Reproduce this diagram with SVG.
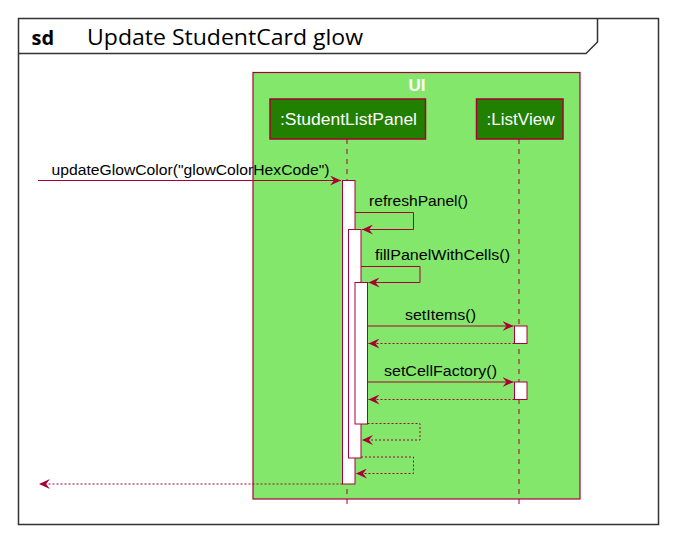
<svg xmlns="http://www.w3.org/2000/svg" width="683" height="551" viewBox="0 0 683 551">
<defs>
<style>
.frame{fill:none;stroke:#333;stroke-width:1.5}
.box{fill:#83E76B;stroke:#A80036;stroke-width:1.2}
.part{fill:#218000;stroke:#A80036;stroke-width:1.5}
.ptxt{font-family:"Liberation Sans",Arial,sans-serif;font-size:16px;fill:#fff}
.life{stroke:#A80036;stroke-width:1;stroke-dasharray:5,5}
.act{fill:#fff;stroke:#A80036;stroke-width:1}
.msg{stroke:#A80036;stroke-width:1;fill:none}
.ret{stroke:#A80036;stroke-width:1;fill:none;stroke-dasharray:2,2}
.mtxt{font-family:"Liberation Sans",Arial,sans-serif;font-size:14px;fill:#000}
</style>
<marker id="ah" viewBox="0 0 12 10" refX="11" refY="5" markerWidth="12" markerHeight="10" markerUnits="userSpaceOnUse" orient="auto">
<polygon points="0,0 11,5 0,10 4,5" fill="#A80036"/>
</marker>
</defs>
<rect width="683" height="551" fill="#fff"/>
<g id="frame">
<rect class="frame" x="18.5" y="18.5" width="640" height="506"/>
<polyline class="frame" points="18.5,53.5 586,53.5 597.5,42 597.5,18.5"/>
<text x="31.5" y="45" font-family="'Open Sans','Liberation Sans',sans-serif" font-size="20" font-weight="bold" fill="#000">sd</text>
<text x="87" y="45" font-family="'Open Sans','Liberation Sans',sans-serif" font-size="22" fill="#000" textLength="276" lengthAdjust="spacingAndGlyphs">Update StudentCard glow</text>
</g>
<g id="UI">
<rect class="box" x="253" y="72.5" width="327" height="426.5"/>
<text x="417" y="91" text-anchor="middle" font-family="'Liberation Sans',Arial,sans-serif" font-size="17" font-weight="bold" fill="#fff">UI</text>
</g>
<g id="lifelines">
<line class="life" x1="347" y1="139" x2="347" y2="507"/>
<line class="life" x1="519" y1="139" x2="519" y2="507"/>
</g>
<g id="StudentListPanel">
<rect class="part" x="270" y="99" width="155.5" height="40"/>
<text class="ptxt" x="280" y="125" textLength="137" lengthAdjust="spacingAndGlyphs">:StudentListPanel</text>
</g>
<g id="ListView">
<rect class="part" x="476.5" y="99" width="86.5" height="40"/>
<text class="ptxt" x="486.5" y="125" textLength="68" lengthAdjust="spacingAndGlyphs">:ListView</text>
</g>
<g id="activations">
<rect class="act" x="342.5" y="180.5" width="12.5" height="303.5"/>
<rect class="act" x="348.5" y="229.5" width="12.5" height="228.5"/>
<rect class="act" x="355" y="282.5" width="12.5" height="141.5"/>
<rect class="act" x="514.5" y="326" width="12.5" height="17.5"/>
<rect class="act" x="514.5" y="382" width="12.5" height="17.5"/>
</g>
<g id="connectors">
<line class="msg" x1="38" y1="180.5" x2="341" y2="180.5" marker-end="url(#ah)"/>
<polyline class="msg" points="355,212.5 413.5,212.5 413.5,229.5 362,229.5" marker-end="url(#ah)"/>
<polyline class="msg" points="361,266.5 420,266.5 420,282.5 368.5,282.5" marker-end="url(#ah)"/>
<line class="msg" x1="367.5" y1="326" x2="513.5" y2="326" marker-end="url(#ah)"/>
<line class="ret" x1="514.5" y1="343.5" x2="368.5" y2="343.5" marker-end="url(#ah)"/>
<line class="msg" x1="367.5" y1="382" x2="513.5" y2="382" marker-end="url(#ah)"/>
<line class="ret" x1="514.5" y1="399.5" x2="368.5" y2="399.5" marker-end="url(#ah)"/>
<polyline class="ret" points="367.5,423.5 420,423.5 420,440 362,440" marker-end="url(#ah)"/>
<polyline class="ret" points="361,457 413.5,457 413.5,473.5 356,473.5" marker-end="url(#ah)"/>
<line class="ret" x1="342.5" y1="484" x2="39" y2="484" marker-end="url(#ah)"/>
</g>
<g id="labels">
<text class="mtxt" x="51.5" y="175" textLength="278" lengthAdjust="spacingAndGlyphs">updateGlowColor("glowColorHexCode")</text>
<text class="mtxt" x="369" y="206" textLength="99" lengthAdjust="spacingAndGlyphs">refreshPanel()</text>
<text class="mtxt" x="375" y="260" textLength="135" lengthAdjust="spacingAndGlyphs">fillPanelWithCells()</text>
<text class="mtxt" x="405" y="319.5" textLength="71" lengthAdjust="spacingAndGlyphs">setItems()</text>
<text class="mtxt" x="384" y="375.5" textLength="113" lengthAdjust="spacingAndGlyphs">setCellFactory()</text>
</g>
</svg>
